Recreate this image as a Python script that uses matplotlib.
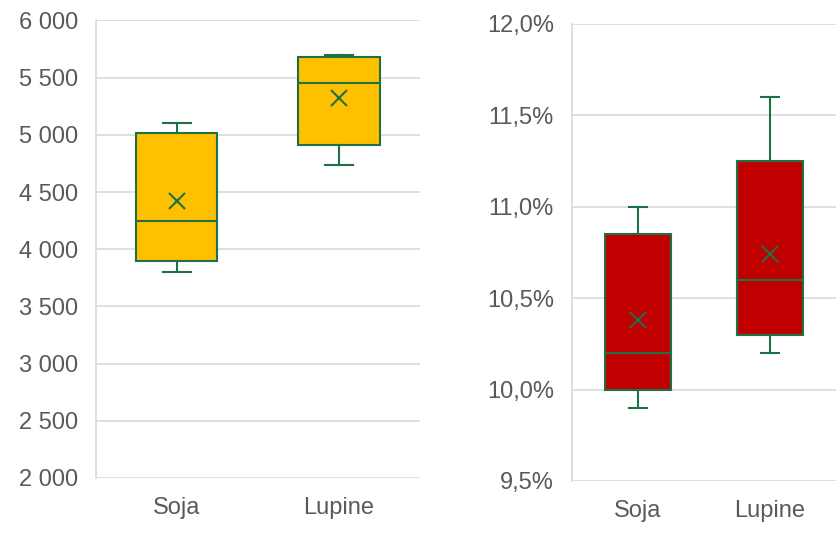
import matplotlib
matplotlib.use("Agg")
import matplotlib.pyplot as plt
from matplotlib.ticker import FuncFormatter

plt.rcParams['font.family'] = ['Liberation Sans', 'DejaVu Sans']

categories = ['Soja', 'Lupine']

# left panel: yield
yield_low = [3800, 4740]
yield_q1 = [3900, 4910]
yield_med = [4250, 5455]
yield_q3 = [5020, 5685]
yield_high = [5105, 5695]
yield_mean = [4420, 5325]

# right panel: percentage
pct_low = [9.90, 10.20]
pct_q1 = [10.00, 10.30]
pct_med = [10.20, 10.60]
pct_q3 = [10.85, 11.25]
pct_high = [11.00, 11.60]
pct_mean = [10.38, 10.74]

green = '#1E7145'
grid_c = '#D9D9D9'
text_c = '#595959'


def make_stats(low, q1, med, q3, high, mean):
    return [dict(whislo=a, q1=b, med=c, q3=d, whishi=e, mean=f, fliers=[], label=lab)
            for a, b, c, d, e, f, lab in zip(low, q1, med, q3, high, mean, categories)]


def draw(ax, stats, face, capw):
    ax.bxp(stats, positions=[0.5, 1.5], widths=0.5, capwidths=capw,
           showmeans=True, patch_artist=True, manage_ticks=False,
           boxprops=dict(facecolor=face, edgecolor=green, linewidth=1.5),
           medianprops=dict(color=green, linewidth=1.5),
           whiskerprops=dict(color=green, linewidth=1.5),
           capprops=dict(color=green, linewidth=1.5),
           meanprops=dict(marker='x', markeredgecolor=green, markersize=11,
                          markeredgewidth=1.5))
    ax.set_xlim(0, 2)
    ax.set_xticks([0.5, 1.5])
    ax.set_xticklabels(categories)
    ax.grid(axis='y', color=grid_c, linewidth=1.2)
    ax.set_axisbelow(True)
    for s in ['top', 'right', 'bottom']:
        ax.spines[s].set_visible(False)
    ax.spines['left'].set_color(grid_c)
    ax.spines['left'].set_linewidth(1.2)
    ax.tick_params(length=0, labelsize=17, labelcolor=text_c)
    ax.tick_params(axis='y', pad=13)
    ax.tick_params(axis='x', pad=14)


fig = plt.figure(figsize=(8.36, 5.58), dpi=100)
ax1 = fig.add_axes([0.1148, 0.1434, 0.3876, 0.8199])
ax2 = fig.add_axes([0.684, 0.138, 0.316, 0.819])

draw(ax1, make_stats(yield_low, yield_q1, yield_med, yield_q3, yield_high, yield_mean),
     '#FFC000', 0.17)
ax1.set_ylim(2000, 6000)
ax1.set_yticks(range(2000, 6001, 500))
ax1.yaxis.set_major_formatter(FuncFormatter(lambda v, p: f'{int(v):,}'.replace(',', ' ')))

draw(ax2, make_stats(pct_low, pct_q1, pct_med, pct_q3, pct_high, pct_mean),
     '#C00000', 0.14)
ax2.set_ylim(9.5, 12.0)
ax2.set_yticks([9.5, 10.0, 10.5, 11.0, 11.5, 12.0])
ax2.yaxis.set_major_formatter(FuncFormatter(lambda v, p: f'{v:.1f}%'.replace('.', ',')))

fig.savefig('out.png', dpi=100)
